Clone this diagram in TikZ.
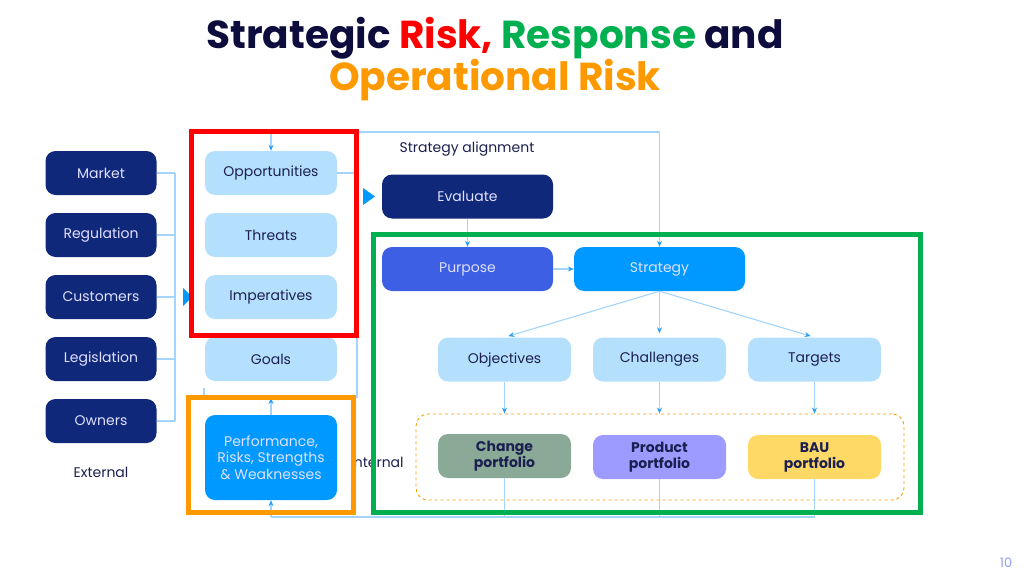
\documentclass[tikz,border=0pt]{standalone}
\usepackage{fontspec}
\setmainfont{Poppins}
\usepackage{xcolor}
\usetikzlibrary{arrows.meta,positioning,shapes.geometric}

\definecolor{navybox}{HTML}{10287A}
\definecolor{navytext}{HTML}{1B2050}
\definecolor{titlenavy}{HTML}{0D0D3D}
\definecolor{lightbox}{HTML}{B5E0FD}
\definecolor{brightbox}{HTML}{0099FF}
\definecolor{purposebox}{HTML}{3D5FE3}
\definecolor{changebox}{HTML}{8AAA97}
\definecolor{productbox}{HTML}{9D9BFF}
\definecolor{baubox}{HTML}{FFD966}
\definecolor{linkcol}{HTML}{A3D4FB}
\definecolor{tipcol}{HTML}{2A9DF4}
\definecolor{riskred}{HTML}{FF0000}
\definecolor{riskgreen}{HTML}{00B050}
\definecolor{riskorange}{HTML}{FF9900}
\definecolor{pagenum}{HTML}{8C9FF5}

\begin{document}
\begin{tikzpicture}[x=1pt,y=-1pt,>={Stealth[length=6pt,width=5pt,color=tipcol]},
  basebox/.style={rectangle,rounded corners=10pt,inner sep=0pt,align=center,
    font=\fontsize{14}{17}\selectfont},
  extbox/.style={basebox,fill=navybox,text=white!88!blue,minimum width=111pt,minimum height=44pt},
  softbox/.style={basebox,fill=lightbox,text=navytext,minimum width=132pt,minimum height=44pt},
  widebox/.style={basebox,minimum width=171pt,minimum height=44pt,text=white!88!blue},
  portbox/.style={basebox,text=navytext,minimum width=133pt,minimum height=44pt,
    font=\bfseries\fontsize{14}{16}\selectfont},
  link/.style={draw=linkcol,line width=1.1pt},
  flow/.style={link,->},
  frame/.style={line width=5pt},
  plain/.style={text=navytext,font=\fontsize{14}{17}\selectfont}]
  \useasboundingbox (0,0) rectangle (1024,583);

  % title
  \node[font=\bfseries\fontsize{39}{41}\selectfont] (title1) at (495,38)
    {\textcolor{titlenavy}{Strategic} \textcolor{riskred}{Risk,} \textcolor{riskgreen}{Response} \textcolor{titlenavy}{and}};
  \node[font=\bfseries\fontsize{39}{41}\selectfont,text=riskorange] (title2) at (495,80) {Operational Risk};

  \node[plain] (internal) at (377,462) {Internal};

  % external drivers
  \node[extbox] (market) at (101,173) {Market};
  \node[extbox] (regulation) at (101,235) {Regulation};
  \node[extbox] (customers) at (101,297) {Customers};
  \node[extbox] (legislation) at (101,359) {Legislation};
  \node[extbox] (owners) at (101,421) {Owners};
  \node[plain] (external) at (101,472) {External};

  \coordinate (busT) at (175,173);
  \coordinate (busB) at (175,421);
  \foreach \n in {market,regulation,customers,legislation,owners}
    \draw[link] (\n.east) -- (\n.east -| busT);
  \draw[link] (busT) -- (busB);
  \fill[brightbox] (183,288) -- (192,297) -- (183,306) -- cycle;

  % middle column
  \node[softbox] (opps) at (271,173) {Opportunities};
  \node[softbox] (threats) at (271,235) {Threats};
  \node[softbox] (imper) at (271,297) {Imperatives};
  \node[softbox] (goals) at (271,359) {Goals};
  \node[basebox,fill=brightbox,text=white!88!blue,minimum width=132pt,minimum height=85pt,
    font=\fontsize{14}{16.5}\selectfont] (perf) at (271,457.5)
    {Performance,\\Risks, Strengths\\\& Weaknesses};

  % strategy side
  \node[plain] (align) at (467,149) {Strategy alignment};
  \node[widebox,fill=navybox] (evaluate) at (467.5,196.5) {Evaluate};
  \fill[brightbox] (363,188) -- (375,196.5) -- (363,205) -- cycle;
  \node[widebox,fill=purposebox] (purpose) at (467.5,269) {Purpose};
  \node[widebox,fill=brightbox] (strategy) at (659.5,269) {Strategy};

  \node[softbox,minimum width=133pt] (objectives) at (504.5,359.5) {Objectives};
  \node[softbox,minimum width=133pt] (challenges) at (659.5,359.5) {Challenges};
  \node[softbox,minimum width=133pt] (targets) at (814.5,359.5) {Targets};

  \node[draw=riskorange,dashed,rounded corners=12pt,line width=0.9pt,
    minimum width=488pt,minimum height=86pt] (portfolios) at (660,457) {};
  \node[portbox,fill=changebox] (change) at (504.5,456) {Change\\portfolio};
  \node[portbox,fill=productbox] (product) at (659.5,457) {Product\\portfolio};
  \node[portbox,fill=baubox] (bau) at (814.5,457) {BAU\\portfolio};

  % connectors
  \coordinate (sideT) at (357,132);
  \coordinate (sideB) at (357,398);
  \coordinate (loopB) at (271,517);
  \coordinate (tick) at (204,388);
  \draw[link] (opps.north |- sideT) -- (sideT);
  \draw[flow] (opps.north |- sideT) -- (opps.north);
  \draw[link] (opps.east) -- (opps.east -| sideT);
  \draw[flow] (sideB) -- (sideT) -| (strategy.north);
  \draw[flow] (perf.north) -- (perf.north |- sideB);
  \draw[link] (tick) -- ++(0,9);
  \draw[flow] (loopB) -- (perf.south);
  \draw[link] (loopB) -- (bau.south |- loopB);
  \foreach \n in {change,product,bau}
    \draw[link] (\n.south) -- (\n.south |- loopB);

  \draw[flow] (evaluate.south) -- (purpose.north);
  \draw[flow] (purpose.east) -- (strategy.west);
  \foreach \n in {objectives,challenges,targets}{
    \draw[flow,shorten >=4pt] (strategy.south) -- (\n.north);
    \draw[flow] (\n.south) -- (\n.south |- portfolios.north);
  }

  % highlight frames
  \draw[frame,draw=riskred] (191,131) rectangle (356,335);
  \draw[frame,draw=riskorange] (188,397) rectangle (353,512);
  \draw[frame,draw=riskgreen] (373,234) rectangle (920,512);

  \node[text=pagenum,font=\fontsize{13}{15}\selectfont] (page) at (1006,563) {10};
\end{tikzpicture}
\end{document}
